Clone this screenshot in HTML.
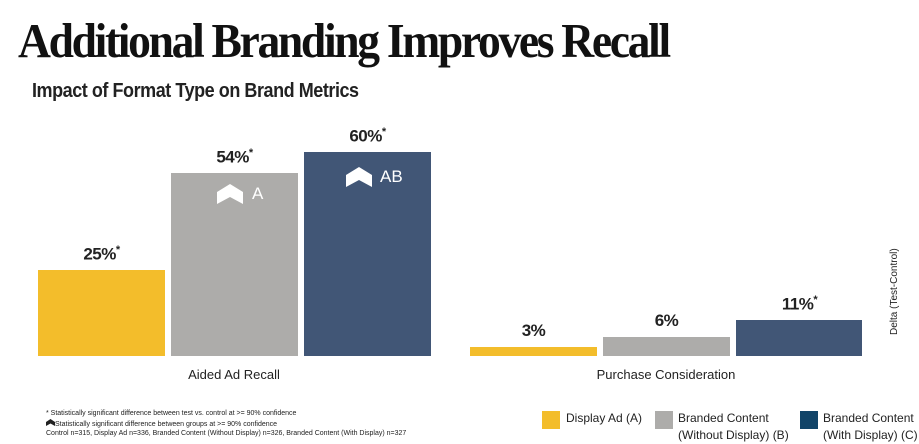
<!DOCTYPE html>
<html><head><meta charset="utf-8"><style>
body{margin:0;width:919px;height:443px;background:#fff;overflow:hidden;position:relative;font-family:"Liberation Sans",sans-serif;color:#222}
.a{position:absolute}
.bar{position:absolute}
.lbl{position:absolute;font-weight:bold;font-size:17px;text-align:center;width:127px;letter-spacing:-0.5px}
.lbl sup{font-size:11px}
.chev{position:absolute}
</style></head><body>
<div class="a" style="left:18px;top:12px;font-family:'Liberation Serif',serif;font-weight:bold;font-size:49px;letter-spacing:-2.5px;color:#111;transform:scaleX(0.93);transform-origin:left">Additional Branding Improves Recall</div>
<div class="a" style="left:32px;top:80px;font-weight:bold;font-size:20px;color:#222;letter-spacing:-0.5px;transform:scaleX(0.9);transform-origin:left">Impact of Format Type on Brand Metrics</div>

<div class="bar" style="left:38px;top:270px;width:127px;height:86px;background:#f3bd2b"></div>
<div class="bar" style="left:171px;top:173px;width:127px;height:183px;background:#adacaa"></div>
<div class="bar" style="left:304px;top:152px;width:127px;height:204px;background:#415676"></div>
<div class="bar" style="left:470px;top:347px;width:127px;height:9px;background:#f3bd2b"></div>
<div class="bar" style="left:603px;top:337px;width:127px;height:19px;background:#adacaa"></div>
<div class="bar" style="left:736px;top:320px;width:126px;height:36px;background:#415676"></div>

<div class="lbl" style="left:38px;top:244px">25%<sup>*</sup></div>
<div class="lbl" style="left:171px;top:147px">54%<sup>*</sup></div>
<div class="lbl" style="left:304px;top:126px">60%<sup>*</sup></div>
<div class="lbl" style="left:470px;top:321px">3%</div>
<div class="lbl" style="left:603px;top:311px">6%</div>
<div class="lbl" style="left:736px;top:294px">11%<sup>*</sup></div>

<svg class="chev" style="left:217px;top:184px" width="26" height="20"><polygon points="0,8 13,0 26,8 26,20 13,13 0,20" fill="#fff"/></svg>
<div class="a" style="left:252px;top:184px;color:#fff;font-size:17px">A</div>
<svg class="chev" style="left:346px;top:167px" width="26" height="20"><polygon points="0,8 13,0 26,8 26,20 13,13 0,20" fill="#fff"/></svg>
<div class="a" style="left:380px;top:167px;color:#fff;font-size:17px">AB</div>

<div class="a" style="left:180px;top:367px;font-size:13px;width:108px;text-align:center">Aided Ad Recall</div>
<div class="a" style="left:590px;top:367px;font-size:13px;width:152px;text-align:center">Purchase Consideration</div>
<div class="a" style="left:889px;top:335px;font-size:10px;transform:rotate(-90deg);transform-origin:left top;white-space:nowrap">Delta (Test-Control)</div>

<div class="a" style="left:46px;top:409px;font-size:7px;line-height:9.5px;white-space:nowrap">* Statistically significant difference between test vs. control at &gt;= 90% confidence<br>
<svg width="9" height="7"><polygon points="0,3 4.5,0 9,3 9,7 4.5,4.5 0,7" fill="#222"/></svg>Statistically significant difference between groups at &gt;= 90% confidence<br>
Control n=315, Display Ad n=336, Branded Content (Without Display) n=326, Branded Content (With Display) n=327</div>

<div class="a" style="left:542px;top:411px;width:18px;height:18px;background:#f3bd2b"></div>
<div class="a" style="left:566px;top:411px;font-size:12px">Display Ad (A)</div>
<div class="a" style="left:655px;top:411px;width:18px;height:18px;background:#adacaa"></div>
<div class="a" style="left:678px;top:410px;font-size:12px;line-height:17px">Branded Content<br>(Without Display) (B)</div>
<div class="a" style="left:800px;top:411px;width:18px;height:18px;background:#114468"></div>
<div class="a" style="left:823px;top:410px;font-size:12px;line-height:17px">Branded Content<br>(With Display) (C)</div>
</body></html>
